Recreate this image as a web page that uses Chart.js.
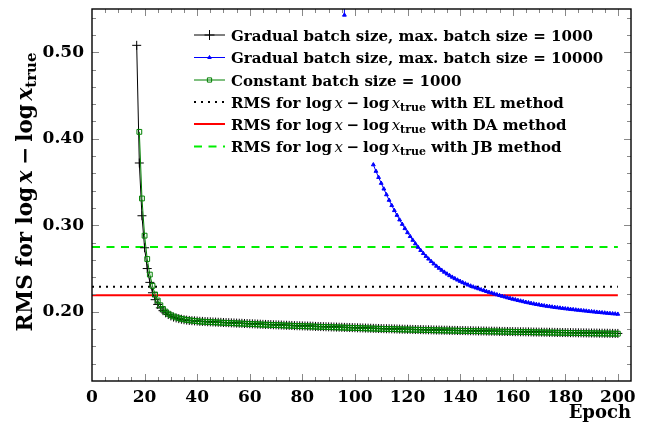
<!DOCTYPE html>
<html><head><meta charset="utf-8">
<script src="https://cdn.jsdelivr.net/npm/chart.js@4.4.0/dist/chart.umd.min.js"></script>
<style>html,body{margin:0;padding:0;background:#fff}</style>
</head><body>
<canvas id="c" width="645" height="427"></canvas>
<script>
// ---------------- data ----------------
const epochTicks = [0, 20, 40, 60, 80, 100, 120, 140, 160, 180, 200];
const rmsTicks = [0.20, 0.30, 0.40, 0.50];

const seriesNames = [
  'Gradual batch size, max. batch size = 1000',
  'Gradual batch size, max. batch size = 10000',
  'Constant batch size = 1000'
];
const refNames = [
  'RMS for log x − log x_true with EL method',
  'RMS for log x − log x_true with DA method',
  'RMS for log x − log x_true with JB method'
];
const refValues = [0.229, 0.219, 0.275];
const refEpochs = [0, 200];

// Gradual, max 1000 : epochs 17..200
const gradual1000Start = 17;
const gradual1000 = [
  0.508, 0.372, 0.311, 0.274, 0.250, 0.234, 0.222, 0.214, 0.2085, 0.2045,
  0.2013, 0.1988, 0.1968, 0.1952, 0.1939, 0.1929, 0.1921, 0.1914, 0.1908, 0.1904,
  0.1900, 0.1897, 0.1895, 0.1893, 0.1890, 0.1889, 0.1887, 0.1885, 0.1884, 0.1882,
  0.1881, 0.1879, 0.1878, 0.1876, 0.1875, 0.1874, 0.1872, 0.1871, 0.1869, 0.1868,
  0.1867, 0.1865, 0.1864, 0.1862, 0.1861, 0.1860, 0.1858, 0.1857, 0.1855, 0.1854,
  0.1853, 0.1852, 0.1850, 0.1849, 0.1848, 0.1847, 0.1845, 0.1844, 0.1843, 0.1842,
  0.1840, 0.1839, 0.1838, 0.1837, 0.1836, 0.1835, 0.1834, 0.1833, 0.1831, 0.1830,
  0.1829, 0.1828, 0.1827, 0.1826, 0.1825, 0.1824, 0.1823, 0.1822, 0.1821, 0.1820,
  0.1819, 0.1818, 0.1817, 0.1816, 0.1815, 0.1814, 0.1813, 0.1812, 0.1811, 0.1810,
  0.1809, 0.1808, 0.1807, 0.1806, 0.1805, 0.1804, 0.1804, 0.1803, 0.1802, 0.1801,
  0.1800, 0.1799, 0.1798, 0.1798, 0.1797, 0.1796, 0.1795, 0.1795, 0.1794, 0.1793,
  0.1792, 0.1792, 0.1791, 0.1790, 0.1789, 0.1789, 0.1788, 0.1787, 0.1787, 0.1786,
  0.1785, 0.1785, 0.1784, 0.1783, 0.1783, 0.1782, 0.1781, 0.1781, 0.1780, 0.1779,
  0.1779, 0.1778, 0.1778, 0.1777, 0.1776, 0.1776, 0.1775, 0.1775, 0.1774, 0.1773,
  0.1773, 0.1772, 0.1772, 0.1771, 0.1770, 0.1770, 0.1769, 0.1769, 0.1768, 0.1768,
  0.1767, 0.1766, 0.1766, 0.1765, 0.1765, 0.1764, 0.1764, 0.1763, 0.1763, 0.1762,
  0.1761, 0.1761, 0.1760, 0.1760, 0.1759, 0.1759, 0.1758, 0.1758, 0.1757, 0.1757,
  0.1756, 0.1756, 0.1755, 0.1755, 0.1754, 0.1754, 0.1753, 0.1753, 0.1752, 0.1752,
  0.1751, 0.1751, 0.1750, 0.1750
];

// Gradual, max 10000 : epochs 95..200 (null = not drawn)
const gradual10000Start = 95;
const gradual10000 = [
  3.0, 0.543, null, null, null, null, null, null, null, null, null, null,
  0.3700, 0.3625, 0.3554, 0.3486, 0.3420, 0.3354, 0.3290, 0.3229, 0.3171, 0.3116,
  0.3063, 0.3012, 0.2963, 0.2916, 0.2871, 0.2828, 0.2787, 0.2747, 0.2710, 0.2675,
  0.2642, 0.2611, 0.2582, 0.2554, 0.2528, 0.2504, 0.2481, 0.2459, 0.2438, 0.2419,
  0.2401, 0.2384, 0.2368, 0.2353, 0.2338, 0.2324, 0.2311, 0.2299, 0.2288, 0.2277,
  0.2267, 0.2256, 0.2246, 0.2236, 0.2226, 0.2217, 0.2207, 0.2198, 0.2189, 0.2180,
  0.2172, 0.2163, 0.2155, 0.2147, 0.2140, 0.2132, 0.2125, 0.2118, 0.2111, 0.2105,
  0.2098, 0.2092, 0.2086, 0.2081, 0.2075, 0.2070, 0.2065, 0.2061, 0.2056, 0.2052,
  0.2048, 0.2044, 0.2040, 0.2036, 0.2033, 0.2029, 0.2026, 0.2022, 0.2019, 0.2015,
  0.2012, 0.2009, 0.2005, 0.2002, 0.1999, 0.1996, 0.1993, 0.1990, 0.1987, 0.1984,
  0.1981, 0.1978, 0.1976, 0.1973
];

// Constant batch size 1000 : epochs 18..200
const constant1000Start = 18;
const constant1000 = [
  0.408, 0.331, 0.288, 0.261, 0.243, 0.230, 0.220, 0.213, 0.2075, 0.2033,
  0.2002, 0.1978, 0.1960, 0.1946, 0.1935, 0.1926, 0.1918, 0.1912, 0.1906, 0.1902,
  0.1898, 0.1895, 0.1892, 0.1887, 0.1886, 0.1884, 0.1882, 0.1881, 0.1879, 0.1878,
  0.1876, 0.1875, 0.1873, 0.1872, 0.1871, 0.1869, 0.1868, 0.1866, 0.1865, 0.1864,
  0.1862, 0.1861, 0.1859, 0.1858, 0.1857, 0.1855, 0.1854, 0.1852, 0.1851, 0.1850,
  0.1849, 0.1847, 0.1846, 0.1845, 0.1844, 0.1842, 0.1841, 0.1840, 0.1839, 0.1837,
  0.1836, 0.1835, 0.1834, 0.1833, 0.1832, 0.1831, 0.1830, 0.1828, 0.1827, 0.1826,
  0.1825, 0.1824, 0.1823, 0.1822, 0.1821, 0.1820, 0.1819, 0.1818, 0.1817, 0.1816,
  0.1815, 0.1814, 0.1813, 0.1812, 0.1811, 0.1810, 0.1809, 0.1808, 0.1807, 0.1806,
  0.1805, 0.1804, 0.1803, 0.1802, 0.1801, 0.1801, 0.1800, 0.1799, 0.1798, 0.1797,
  0.1796, 0.1795, 0.1795, 0.1794, 0.1793, 0.1792, 0.1792, 0.1791, 0.1790, 0.1789,
  0.1789, 0.1788, 0.1787, 0.1786, 0.1786, 0.1785, 0.1784, 0.1784, 0.1783, 0.1782,
  0.1782, 0.1781, 0.1780, 0.1780, 0.1779, 0.1778, 0.1778, 0.1777, 0.1776, 0.1776,
  0.1775, 0.1775, 0.1774, 0.1773, 0.1773, 0.1772, 0.1772, 0.1771, 0.1770, 0.1770,
  0.1769, 0.1769, 0.1768, 0.1767, 0.1767, 0.1766, 0.1766, 0.1765, 0.1765, 0.1764,
  0.1763, 0.1763, 0.1762, 0.1762, 0.1761, 0.1761, 0.1760, 0.1760, 0.1759, 0.1758,
  0.1758, 0.1757, 0.1757, 0.1756, 0.1756, 0.1755, 0.1755, 0.1754, 0.1754, 0.1753,
  0.1753, 0.1752, 0.1752, 0.1751, 0.1751, 0.1750, 0.1750, 0.1749, 0.1749, 0.1748,
  0.1748, 0.1747, 0.1747
];

// ---------------- helpers ----------------
const FONT = '"DejaVu Serif", serif';
const toPoints = (start, vals) => vals.map((v, i) => ({ x: start + i, y: v }));

function segs(label) {
  const out = [];
  label.split(/(\bx_true\b|\bx\b)/).forEach(p => {
    if (!p) return;
    if (p === 'x') out.push({ t: 'x', it: true });
    else if (p === 'x_true') { out.push({ t: 'x', it: true }); out.push({ t: 'true', sub: true }); }
    else out.push({ t: p.replace(/ − /g, '\u2005−\u2005').replace(/log /g, 'log\u2006') });
  });
  return out;
}
function fontFor(g, size, itW) {
  if (g.it) return `italic ${itW} ${size}px ${FONT}`;
  if (g.sub) return `bold ${Math.round(size * 0.72)}px ${FONT}`;
  return `bold ${size}px ${FONT}`;
}
function richWidth(ctx, label, size, itW) {
  let w = 0;
  segs(label).forEach(g => { ctx.font = fontFor(g, size, itW); w += ctx.measureText(g.t).width; });
  return w;
}
function drawRich(ctx, label, x, y, size, itW) {
  ctx.textAlign = 'left';
  ctx.textBaseline = 'alphabetic';
  let cx = x;
  segs(label).forEach(g => {
    ctx.font = fontFor(g, size, itW);
    ctx.fillText(g.t, cx, g.sub ? y + size * 0.22 : y);
    cx += ctx.measureText(g.t).width;
  });
}

const decor = {
  id: 'decor',
  afterDatasetsDraw(chart) {
    const { ctx, chartArea: a, scales: { x, y } } = chart;
    ctx.save();
    ctx.strokeStyle = '#888';
    ctx.lineWidth = 1;
    ctx.beginPath();
    const xs = [];
    for (let v = 5; v < x.max; v += 5) xs.push(v);
    xs.forEach(v => {
      const px = Math.round(x.getPixelForValue(v)) + 0.5;
      const L = epochTicks.includes(v) ? 7 : 4;
      ctx.moveTo(px, a.bottom); ctx.lineTo(px, a.bottom - L);
      ctx.moveTo(px, a.top); ctx.lineTo(px, a.top + L);
    });
    for (let k = 7; k < 55; k++) {
      const v = k / 100;
      if (v <= y.min + 1e-9 || v >= y.max - 1e-9 || k % 2) continue;
      const py = Math.round(y.getPixelForValue(v)) + 0.5;
      const L = (k % 10 === 0) ? 7 : 4;
      ctx.moveTo(a.left, py); ctx.lineTo(a.left + L, py);
      ctx.moveTo(a.right, py); ctx.lineTo(a.right - L, py);
    }
    ctx.stroke();
    ctx.strokeStyle = '#000';
    ctx.lineWidth = 1.4;
    ctx.strokeRect(a.left, a.top, a.right - a.left, a.bottom - a.top);
    ctx.restore();
  },
  afterDraw(chart) {
    const { ctx } = chart;
    ctx.save();
    // legend
    const rowY = [35, 57.5, 80, 102, 124, 146.5];
    chart.data.datasets.forEach((ds, i) => {
      const yy = rowY[i];
      const x0 = 194, x1 = 225;
      ctx.save();
      ctx.strokeStyle = ds.borderColor;
      ctx.lineWidth = ds.borderWidth;
      ctx.setLineDash(ds.borderDash || []);
      ctx.beginPath(); ctx.moveTo(x0, yy); ctx.lineTo(x1, yy); ctx.stroke();
      ctx.restore();
      if (ds.pointRadius > 0) {
        ctx.save();
        ctx.strokeStyle = ds.pointBorderColor;
        ctx.fillStyle = ds.pointBackgroundColor;
        ctx.lineWidth = ds.pointBorderWidth;
        Chart.helpers.drawPoint(ctx, { pointStyle: ds.pointStyle, radius: ds.legendRadius, borderWidth: ds.pointBorderWidth, rotation: 0 }, (x0 + x1) / 2, yy);
        ctx.restore();
      }
      ctx.fillStyle = '#000';
      drawRich(ctx, ds.label, 231, yy + 5.5, 15, 'normal');
    });
    // y axis title
    const size = 21.5;
    const t = 'RMS for log x − log x_true';
    const w = richWidth(ctx, t, size, 'bold');
    ctx.translate(24, 192);
    ctx.rotate(-Math.PI / 2);
    ctx.fillStyle = '#000';
    drawRich(ctx, t, -w / 2, size * 0.36, size, 'bold');
    ctx.restore();
  }
};

const datasets = [
  { label: seriesNames[0], data: toPoints(gradual1000Start, gradual1000), borderColor: '#000000', borderWidth: 1,
    pointStyle: 'cross', pointRadius: 4.5, legendRadius: 5, pointBorderColor: '#000000', pointBackgroundColor: '#000000', pointBorderWidth: 1, order: 3 },
  { label: seriesNames[1], data: toPoints(gradual10000Start, gradual10000), borderColor: '#0000ff', borderWidth: 1,
    pointStyle: 'triangle', pointRadius: 2.2, legendRadius: 2, pointBorderColor: '#0000ff', pointBackgroundColor: '#0000ff', pointBorderWidth: 1, order: 1 },
  { label: seriesNames[2], data: toPoints(constant1000Start, constant1000), borderColor: '#008000', borderWidth: 1,
    pointStyle: 'rect', pointRadius: 3.4, legendRadius: 3, pointBorderColor: '#008000', pointBackgroundColor: 'rgba(0,0,0,0)', pointBorderWidth: 1, order: 2 },
  { label: refNames[0], data: refEpochs.map(e => ({ x: e, y: refValues[0] })), borderColor: '#000000', borderWidth: 2,
    borderDash: [2, 5], pointRadius: 0, order: 10 },
  { label: refNames[1], data: refEpochs.map(e => ({ x: e, y: refValues[1] })), borderColor: '#ff0000', borderWidth: 2,
    pointRadius: 0, order: 10 },
  { label: refNames[2], data: refEpochs.map(e => ({ x: e, y: refValues[2] })), borderColor: '#00ee00', borderWidth: 2,
    borderDash: [8, 6.5], pointRadius: 0, order: 10 }
];

const tickFont = { family: FONT, size: 17, weight: 'bold' };

new Chart(document.getElementById('c'), {
  type: 'line',
  data: { datasets },
  options: {
    responsive: false,
    animation: false,
    devicePixelRatio: 1,
    spanGaps: false,
    layout: { padding: { top: 9, right: 14, left: 0, bottom: 0 } },
    plugins: { legend: { display: false }, tooltip: { enabled: false } },
    elements: { line: { tension: 0 } },
    scales: {
      x: {
        type: 'linear', min: 0, max: 205,
        afterBuildTicks: s => { s.ticks = epochTicks.map(v => ({ value: v })); },
        afterFit: s => { s.height = 46; s.paddingLeft = 0; s.paddingRight = 0; },
        grid: { display: false, drawTicks: false },
        border: { display: false },
        ticks: { font: tickFont, color: '#000', padding: 6, maxRotation: 0, autoSkip: false, callback: v => String(v) },
        title: { display: true, text: 'Epoch', align: 'end', color: '#000',
                 font: { family: FONT, size: 18, weight: 'bold' }, padding: { top: 0, bottom: 3 } }
      },
      y: {
        type: 'linear', min: 0.12, max: 0.55,
        afterBuildTicks: s => { s.ticks = rmsTicks.map(v => ({ value: v })); },
        afterFit: s => { s.width = 92; s.paddingTop = 0; s.paddingBottom = 0; },
        grid: { display: false, drawTicks: false },
        border: { display: false },
        ticks: { font: tickFont, color: '#000', padding: 8, autoSkip: false, callback: v => v.toFixed(2) }
      }
    }
  },
  plugins: [decor]
});
</script>
</body></html>
